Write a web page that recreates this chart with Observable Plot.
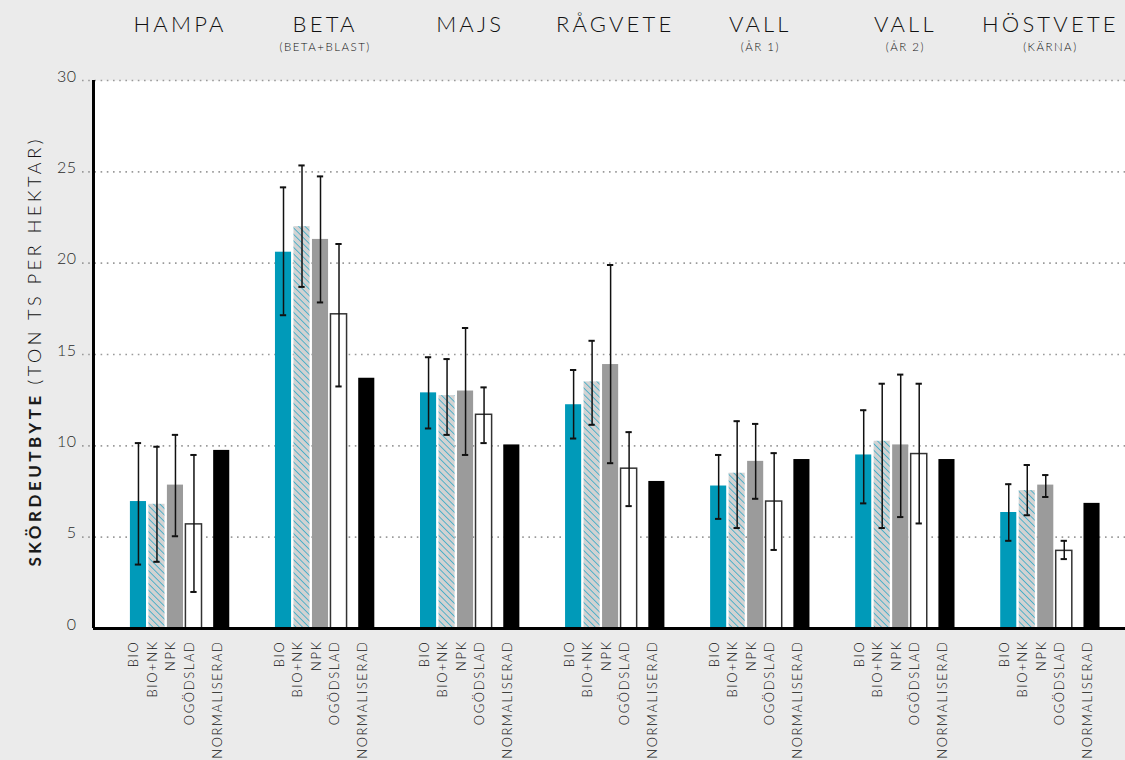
<!DOCTYPE html>
<html>
<head>
<meta charset="utf-8">
<script src="https://cdn.jsdelivr.net/npm/d3@7"></script>
<script src="https://cdn.jsdelivr.net/npm/@observablehq/plot@0.6"></script>
<style>
  body { margin: 0; background: #ebebeb; }
  #chart svg { display: block; }
  g[aria-description="crop"] text { letter-spacing: 3.2px; }
  g[aria-description="crop-note"] text { letter-spacing: 1.5px; }
  g[aria-description="treatment"] text { letter-spacing: 1.6px; }
  g[aria-description="y-title-bold"] text { letter-spacing: 3.5px; }
  g[aria-description="y-title"] text { letter-spacing: 3.6px; }
  g[aria-description="y-tick"] text { letter-spacing: 0.5px; }
</style>
</head>
<body>
<svg width="0" height="0" style="position:absolute">
  <defs>
    <pattern id="hatch" width="4.6" height="4.6" patternUnits="userSpaceOnUse" patternTransform="rotate(-45)">
      <rect width="4.6" height="4.6" fill="#d2d2d2"></rect>
      <line x1="0" y1="0" x2="0" y2="4.6" stroke="#1ca3c4" stroke-width="1.4"></line>
    </pattern>
  </defs>
</svg>
<div id="chart"></div>
<script>
// Crops (groups) and their sub-captions
const crops = ["HAMPA", "BETA", "MAJS", "RÅGVETE", "VALL", "VALL", "HÖSTVETE"];
const cropNotes = ["", "(BETA+BLAST)", "", "", "(ÅR 1)", "(ÅR 2)", "(KÄRNA)"];

// Treatments within each crop
const treatments = ["BIO", "BIO+NK", "NPK", "OGÖDSLAD", "NORMALISERAD"];

// Yield, ton dry matter per hectare, one value per crop
const bio          = [6.95, 20.6, 12.9, 12.25, 7.8, 9.5, 6.35];
const bioNk        = [6.8, 22.0, 12.75, 13.5, 8.5, 10.25, 7.55];
const npk          = [7.85, 21.3, 13.0, 14.45, 9.15, 10.05, 7.85];
const ogodslad     = [5.7, 17.2, 11.7, 8.75, 6.95, 9.55, 4.25];
const normaliserad = [9.75, 13.7, 10.05, 8.05, 9.25, 9.25, 6.85];

// Spread (low, high) per crop
const bioRange      = [[3.5, 10.15], [17.15, 24.15], [10.95, 14.85], [10.4, 14.15], [6.0, 9.5], [6.85, 11.95], [4.8, 7.9]];
const bioNkRange    = [[3.65, 9.95], [18.7, 25.35], [10.6, 14.75], [11.15, 15.75], [5.5, 11.35], [5.5, 13.4], [6.2, 8.95]];
const npkRange      = [[5.05, 10.6], [17.85, 24.75], [9.5, 16.45], [9.05, 19.9], [7.1, 11.2], [6.1, 13.9], [7.2, 8.4]];
const ogodsladRange = [[2.0, 9.5], [13.25, 21.05], [10.15, 13.2], [6.7, 10.75], [4.3, 9.6], [5.75, 13.4], [3.8, 4.8]];

const yTicks = [0, 5, 10, 15, 20, 25, 30];

// Layout along x, in bar-slot units
const GROUP_STEP = 7.84;
const SLOTS = [0, 1, 2, 3, 4.5];
const BAR_HALF = 0.435;
const CAP_HALF = 0.17;
const X_DOMAIN = [-2.43, 53.35];

const values = [bio, bioNk, npk, ogodslad, normaliserad];
const ranges = [bioRange, bioNkRange, npkRange, ogodsladRange, null];

const rows = [];
crops.forEach((crop, g) => {
  treatments.forEach((treatment, t) => {
    const r = ranges[t] ? ranges[t][g] : null;
    rows.push({
      crop, treatment, t,
      pos: g * GROUP_STEP + SLOTS[t],
      value: values[t][g],
      low: r ? r[0] : null,
      high: r ? r[1] : null
    });
  });
});
const errRows = rows.filter(d => d.low != null);
const cropRows = crops.map((name, g) => ({
  name, note: cropNotes[g],
  center: g * GROUP_STEP + (SLOTS[0] + SLOTS[4]) / 2
}));

const fills = ["#009ab9", "url(#hatch)", "#9b9b9b", "white", "#000"];
const barMarks = treatments.map((tr, t) =>
  Plot.rectY(rows.filter(d => d.t === t), {
    x1: d => d.pos - BAR_HALF,
    x2: d => d.pos + BAR_HALF,
    y1: 0,
    y2: "value",
    fill: fills[t],
    stroke: tr === "OGÖDSLAD" ? "#333" : "none",
    strokeWidth: 1.5
  })
);

const chart = Plot.plot({
  width: 1125,
  height: 760,
  marginLeft: 93,
  marginRight: 0,
  marginTop: 80,
  marginBottom: 132,
  style: { background: "transparent", fontFamily: "Lato, 'Noto Sans', sans-serif", color: "#222" },
  x: { domain: X_DOMAIN, axis: null },
  y: { domain: [0, 30], axis: null },
  marks: [
    Plot.frame({ fill: "white", stroke: "none" }),
    Plot.ruleY(yTicks.filter(d => d > 0), {
      stroke: "#9a9a9a", strokeWidth: 1.6, strokeDasharray: "1.6 4.6", insetLeft: -11
    }),
    ...barMarks,
    Plot.ruleX(errRows, { x: "pos", y1: "low", y2: "high", stroke: "#111", strokeWidth: 1.5 }),
    Plot.ruleY(errRows, { y: "high", x1: d => d.pos - CAP_HALF, x2: d => d.pos + CAP_HALF, stroke: "#111", strokeWidth: 2 }),
    Plot.ruleY(errRows, { y: "low", x1: d => d.pos - CAP_HALF, x2: d => d.pos + CAP_HALF, stroke: "#111", strokeWidth: 2 }),
    Plot.ruleY([0], { stroke: "#000", strokeWidth: 3 }),
    Plot.ruleX([X_DOMAIN[0]], { y1: 0, y2: 30, stroke: "#000", strokeWidth: 3 }),
    // y tick labels
    Plot.text(yTicks, {
      y: d => d, text: d => String(d), frameAnchor: "left", textAnchor: "end",
      dx: -17, dy: -4, fontSize: 16, fontWeight: 300, fill: "#2a2a2a", ariaDescription: "y-tick"
    }),
    // treatment labels under each bar
    Plot.text(rows, {
      x: "pos", text: "treatment", frameAnchor: "bottom", rotate: -90, textAnchor: "end",
      dy: 12, fontSize: 13, fontWeight: 300, fill: "#111", ariaDescription: "treatment"
    }),
    // crop names and notes
    Plot.text(cropRows, {
      x: "center", text: "name", frameAnchor: "top", dy: -64,
      fontSize: 22, fontWeight: 300, fill: "#111", ariaDescription: "crop"
    }),
    Plot.text(cropRows.filter(d => d.note), {
      x: "center", text: "note", frameAnchor: "top", dy: -38,
      fontSize: 11.5, fontWeight: 300, fill: "#111", ariaDescription: "crop-note"
    }),
    // y axis title
    Plot.text(["SKÖRDEUTBYTE"], {
      frameAnchor: "bottom-left", rotate: -90, textAnchor: "start",
      dx: -53, dy: -62, fontSize: 17, fontWeight: 700, fill: "#1a1a1a", ariaDescription: "y-title-bold"
    }),
    Plot.text(["(TON TS PER HEKTAR)"], {
      frameAnchor: "bottom-left", rotate: -90, textAnchor: "start",
      dx: -53, dy: -244, fontSize: 18, fontWeight: 300, fill: "#111", ariaDescription: "y-title"
    })
  ]
});
document.getElementById("chart").append(chart);
</script>
</body>
</html>
